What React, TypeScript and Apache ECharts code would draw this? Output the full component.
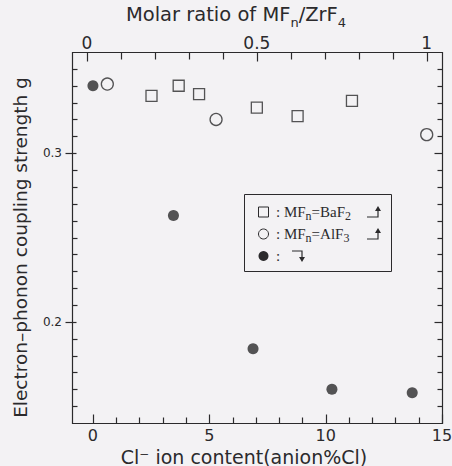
import React, { useEffect, useRef } from "react";
import * as echarts from "echarts";

// Cl-substituted glass (bottom axis: Cl- ion content, anion %Cl)
const clContent = [0, 3.46, 6.88, 10.27, 13.72];
const clG = [0.34, 0.263, 0.184, 0.16, 0.158];

// MFn = BaF2 (top axis: molar ratio MFn/ZrF4)
const baf2Ratio = [0.19, 0.27, 0.33, 0.5, 0.62, 0.78];
const baf2G = [0.334, 0.34, 0.335, 0.327, 0.322, 0.331];

// MFn = AlF3 (top axis)
const alf3Ratio = [0.06, 0.38, 1.0];
const alf3G = [0.341, 0.32, 0.311];

// tick labels and tick positions (data units)
const xTickLabels = [0, 5, 10, 15];
const xMinorTicks = [1, 2, 3, 4, 6, 7, 8, 9, 11, 12, 13, 14];
const topTickLabels = [0, 0.5, 1];
const topMinorTicks = [0.1, 0.2, 0.3, 0.4, 0.6, 0.7, 0.8, 0.9];
const yTickLabels = [0.2, 0.3];
const yMinorTicks = [
  0.15, 0.16, 0.17, 0.18, 0.19, 0.21, 0.22, 0.23, 0.24, 0.25, 0.26, 0.27,
  0.28, 0.29, 0.31, 0.32, 0.33, 0.34, 0.35,
];

const INK = "#2b2a2c";
const BG = "#f3f2f4";
const SANS = "DejaVu Sans";
const SERIF = "Liberation Serif";

const isIn = (arr: number[], v: number) => arr.some((t) => Math.abs(t - v) < 1e-9);

export default function App() {
  const ref = useRef<HTMLDivElement>(null);

  useEffect(() => {
    if (!ref.current) return;
    const chart = echarts.init(ref.current, undefined, { renderer: "svg" });

    const xMin = -0.9;
    const xMax = 15;
    const tMin = -0.044;
    const tMax = 1.045;
    const yMin = 0.14;
    const yMax = 0.36;

    const option: any = {
      animation: false,
      backgroundColor: BG,
      grid: { left: 72, right: 10, top: 52, bottom: 43, outerBoundsMode: "none" },
      xAxis: [
        {
          type: "value",
          position: "bottom",
          min: xMin,
          max: xMax,
          minInterval: 5,
          maxInterval: 5,
          axisLine: { show: false, onZero: false },
          axisTick: { show: false },
          axisLabel: {
            showMinLabel: false,
            margin: 4,
            fontFamily: SANS,
            fontSize: 16,
            color: INK,
            formatter: (v: number) => (isIn(xTickLabels, v) ? String(v) : ""),
          },
          splitLine: { show: false },
          name: "Cl\u207B ion content(anion%Cl)",
          nameLocation: "middle",
          nameGap: 19,
          nameTextStyle: { fontFamily: SANS, fontSize: 19, color: INK, padding: [0, 26, 0, 0] },
        },
        {
          type: "value",
          position: "top",
          min: tMin,
          max: tMax,
          minInterval: 0.5,
          maxInterval: 0.5,
          axisLine: { show: false, onZero: false },
          axisTick: { show: false },
          axisLabel: {
            showMinLabel: false,
            showMaxLabel: false,
            margin: 1,
            fontFamily: SANS,
            fontSize: 17,
            color: INK,
            formatter: (v: number) => (isIn(topTickLabels, v) ? String(v) : ""),
          },
          splitLine: { show: false },
          name: "{b|Molar ratio of MF}{s|n}{b|/ZrF}{s|4}",
          nameLocation: "middle",
          nameGap: 22,
          nameTextStyle: {
            fontFamily: SANS,
            fontSize: 19.5,
            color: INK,
            padding: [0, 42, 0, 0],
            rich: {
              b: { fontFamily: SANS, fontSize: 19.5, lineHeight: 30, color: INK },
              s: { fontFamily: SANS, fontSize: 13, lineHeight: 13, verticalAlign: "bottom", color: INK },
            },
          },
        },
      ],
      yAxis: [
        {
          type: "value",
          position: "left",
          min: yMin,
          max: yMax,
          minInterval: 0.1,
          maxInterval: 0.1,
          axisLine: { show: false, onZero: false },
          axisTick: { show: false },
          axisLabel: {
            showMinLabel: false,
            showMaxLabel: false,
            margin: 10,
            fontFamily: SANS,
            fontSize: 12,
            color: INK,
            formatter: (v: number) => (isIn(yTickLabels, v) ? v.toFixed(1) : ""),
          },
          splitLine: { show: false },
          name: "Electron\u2013phonon coupling strength g",
          nameLocation: "middle",
          nameGap: 42,
          nameTextStyle: { fontFamily: SANS, fontSize: 18.5, color: INK, padding: [0, 20, 0, 0] },
        },
        {
          type: "value",
          position: "right",
          min: yMin,
          max: yMax,
          axisLine: { show: false, onZero: false },
          axisTick: { show: false },
          axisLabel: { show: false },
          splitLine: { show: false },
        },
      ],
      series: [
        {
          name: "Cl",
          type: "scatter",
          xAxisIndex: 0,
          yAxisIndex: 0,
          symbol: "circle",
          symbolSize: 11,
          itemStyle: { color: INK },
          data: clContent.map((x, i) => [x, clG[i]]),
        },
        {
          name: "BaF2",
          type: "scatter",
          xAxisIndex: 1,
          yAxisIndex: 0,
          symbol: "rect",
          symbolSize: 11,
          itemStyle: { color: "rgba(0,0,0,0)", borderColor: INK, borderWidth: 1.3 },
          data: baf2Ratio.map((x, i) => [x, baf2G[i]]),
        },
        {
          name: "AlF3",
          type: "scatter",
          xAxisIndex: 1,
          yAxisIndex: 0,
          symbol: "circle",
          symbolSize: 12,
          itemStyle: { color: "rgba(0,0,0,0)", borderColor: INK, borderWidth: 1.3 },
          data: alf3Ratio.map((x, i) => [x, alf3G[i]]),
        },
      ],
    };

    chart.setOption(option);

    // frame and ticks, placed through the axes' own scales
    const X = (i: number, v: number) => chart.convertToPixel({ xAxisIndex: i } as any, v) as unknown as number;
    const Y = (i: number, v: number) => chart.convertToPixel({ yAxisIndex: i } as any, v) as unknown as number;
    const crisp = (v: number) => Math.round(v) + 0.5;

    const L = crisp(X(0, xMin));
    const R = crisp(X(0, xMax));
    const T = crisp(Y(0, yMax));
    const B = crisp(Y(0, yMin));

    const stroke = { stroke: INK, lineWidth: 1.2 };
    const seg = (x1: number, y1: number, x2: number, y2: number) => ({
      type: "line",
      silent: true,
      z: 5,
      shape: { x1, y1, x2, y2 },
      style: stroke,
    });

    const ticks: any[] = [];
    xTickLabels.forEach((v) => { const x = crisp(X(0, v)); ticks.push(seg(x, B, x, B - 9)); });
    xMinorTicks.forEach((v) => { const x = crisp(X(0, v)); ticks.push(seg(x, B, x, B - 6)); });
    topTickLabels.forEach((v) => { const x = crisp(X(1, v)); ticks.push(seg(x, T, x, T + 9)); });
    topMinorTicks.forEach((v) => { const x = crisp(X(1, v)); ticks.push(seg(x, T, x, T + 7)); });
    yTickLabels.forEach((v) => {
      const y = crisp(Y(0, v));
      ticks.push(seg(L - 7, y, L + 4, y));
      ticks.push(seg(R, y, R - 8, y));
    });
    yMinorTicks.forEach((v) => {
      const y = crisp(Y(0, v));
      ticks.push(seg(L, y, L + 5, y));
      ticks.push(seg(R, y, R - 5, y));
    });

    const r1 = 212;
    const r2 = 234;
    const r3 = 256;
    const legendRich = {
      b: { fontFamily: SERIF, fontSize: 15, lineHeight: 20, color: INK },
      s: { fontFamily: SERIF, fontSize: 12, lineHeight: 12, verticalAlign: "bottom", color: INK },
    };

    const legend: any[] = [
      {
        type: "rect",
        shape: { x: 244.5, y: 194.5, width: 147, height: 77 },
        style: { fill: "none", stroke: INK, lineWidth: 1 },
        z: 10,
      },
      {
        type: "rect",
        shape: { x: 258.5, y: r1 - 5, width: 10, height: 10 },
        style: { fill: "none", stroke: INK, lineWidth: 1 },
        z: 10,
      },
      {
        type: "text",
        x: 276,
        y: r1,
        style: { text: "{b|: MF}{s|n}{b|=BaF}{s|2}", rich: legendRich, verticalAlign: "middle", fill: INK },
        z: 10,
      },
      {
        type: "polyline",
        shape: { points: [[367, r1 + 5], [378, r1 + 5], [378, r1 - 2]] },
        style: { stroke: INK, lineWidth: 1.2, fill: "none" },
        z: 10,
      },
      {
        type: "polygon",
        shape: { points: [[375, r1 - 1], [378, r1 - 6], [381, r1 - 1]] },
        style: { fill: INK },
        z: 10,
      },
      {
        type: "circle",
        shape: { cx: 263.5, cy: r2, r: 5 },
        style: { fill: "none", stroke: INK, lineWidth: 1 },
        z: 10,
      },
      {
        type: "text",
        x: 276,
        y: r2,
        style: { text: "{b|: MF}{s|n}{b|=AlF}{s|3}", rich: legendRich, verticalAlign: "middle", fill: INK },
        z: 10,
      },
      {
        type: "polyline",
        shape: { points: [[367, r2 + 5], [378, r2 + 5], [378, r2 - 2]] },
        style: { stroke: INK, lineWidth: 1.2, fill: "none" },
        z: 10,
      },
      {
        type: "polygon",
        shape: { points: [[375, r2 - 1], [378, r2 - 6], [381, r2 - 1]] },
        style: { fill: INK },
        z: 10,
      },
      {
        type: "circle",
        shape: { cx: 263.5, cy: r3, r: 5 },
        style: { fill: INK },
        z: 10,
      },
      {
        type: "text",
        x: 276,
        y: r3,
        style: { text: "{b|:}", rich: legendRich, verticalAlign: "middle", fill: INK },
        z: 10,
      },
      {
        type: "polyline",
        shape: { points: [[292, r3 - 5], [302, r3 - 5], [302, r3 + 2]] },
        style: { stroke: INK, lineWidth: 1.2, fill: "none" },
        z: 10,
      },
      {
        type: "polygon",
        shape: { points: [[299, r3 + 1], [302, r3 + 6], [305, r3 + 1]] },
        style: { fill: INK },
        z: 10,
      },
    ];

    const frame = {
      type: "rect",
      silent: true,
      z: 5,
      shape: { x: L, y: T, width: R - L, height: B - T },
      style: { fill: "none", stroke: INK, lineWidth: 1.2 },
    };

    chart.setOption({ graphic: [frame, ...ticks, ...legend] });

    return () => chart.dispose();
  }, []);

  return (
    <div ref={ref} style={{ position: "absolute", left: 0, top: 0, width: 452, height: 466 }} />
  );
}
